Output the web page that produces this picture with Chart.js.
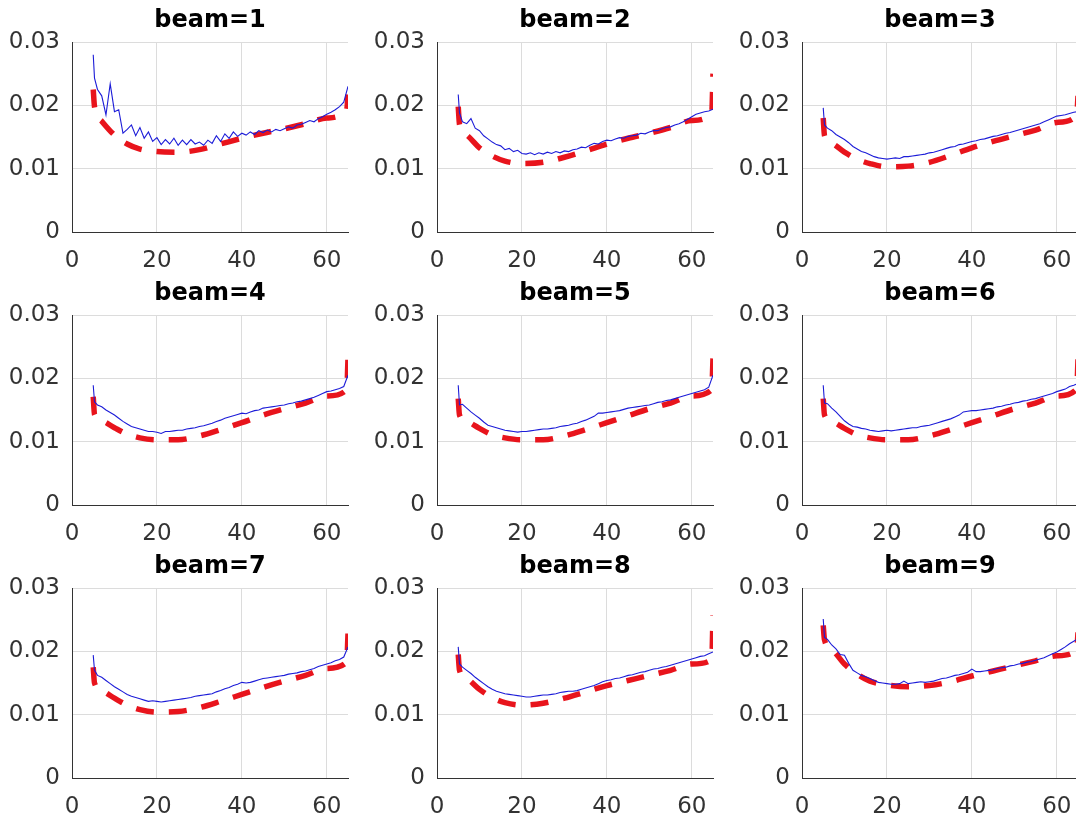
<!DOCTYPE html>
<html>
<head>
<meta charset="utf-8">
<script src="https://cdn.jsdelivr.net/npm/chart.js@4"></script>
<style>
  html, body { margin: 0; padding: 0; background: #fff; overflow: hidden; width: 1076px; height: 817px; }
  canvas { position: absolute; }
</style>
</head>
<body>
<script>
// x positions of the measured curve (blue) and of the fitted curve (red)
const blueX = [5, 5.3, 6, 7, 8, 9, 10, 11, 12, 13, 14, 15, 16, 17, 18, 19, 20, 21, 22, 23, 24,
  25, 26, 27, 28, 29, 30, 31, 32, 33, 34, 35, 36, 37, 38, 39, 40, 41, 42, 43, 44,
  45, 46, 47, 48, 49, 50, 51, 52, 53, 54, 55, 56, 57, 58, 59, 60, 61, 62, 63, 64, 65];
const redX = [5, 5.3, 7, 10, 13, 16, 20, 25, 30, 35, 40, 45, 50, 55, 60, 64.7, 65];

// tick labels
const xTicks = [0, 20, 40, 60];
const yTicks = [0, 0.01, 0.02, 0.03];
const yTickLabels = ['0', '0.01', '0.02', '0.03'];

const titles = ['beam=1', 'beam=2', 'beam=3', 'beam=4', 'beam=5', 'beam=6', 'beam=7', 'beam=8', 'beam=9'];

// measured (blue)
const beam1Blue = [0.0280, 0.0243, 0.0225, 0.0215, 0.0185, 0.0234, 0.0190, 0.0193, 0.0156, 0.0162,
  0.0169, 0.0152, 0.0165, 0.0148, 0.0158, 0.0143, 0.0149, 0.0138, 0.0146, 0.0139,
  0.0148, 0.0137, 0.0145, 0.0138, 0.0146, 0.0139, 0.0142, 0.0137, 0.0145, 0.0140,
  0.0152, 0.0143, 0.0155, 0.0148, 0.0158, 0.0151, 0.0156, 0.0153, 0.0158, 0.0154,
  0.0160, 0.0157, 0.0161, 0.0158, 0.0162, 0.0160, 0.0163, 0.0166, 0.0164, 0.0169,
  0.0170, 0.0173, 0.0176, 0.0174, 0.0179, 0.0182, 0.0186, 0.0189, 0.0193, 0.0198,
  0.0205, 0.0230];
const beam2Blue = [0.0217, 0.0188, 0.0174, 0.0171, 0.0179, 0.0164, 0.0160, 0.0152, 0.0147, 0.0142,
  0.0138, 0.0136, 0.0130, 0.0132, 0.0127, 0.0129, 0.0124, 0.0123, 0.0125, 0.0122,
  0.0125, 0.0123, 0.0126, 0.0124, 0.0127, 0.0125, 0.0128, 0.0127, 0.0130, 0.0131,
  0.0134, 0.0133, 0.0137, 0.0140, 0.0139, 0.0143, 0.0145, 0.0144, 0.0147, 0.0149,
  0.0148, 0.0151, 0.0152, 0.0153, 0.0156, 0.0155, 0.0158, 0.0160, 0.0160, 0.0163,
  0.0165, 0.0166, 0.0169, 0.0171, 0.0174, 0.0178, 0.0182, 0.0186, 0.0188, 0.0190,
  0.0191, 0.0194];
const beam3Blue = [0.0196, 0.0169, 0.0164, 0.0160, 0.0154, 0.0150, 0.0146, 0.0141, 0.0135, 0.0131,
  0.0127, 0.0125, 0.0122, 0.0119, 0.0117, 0.0116, 0.0115, 0.0116, 0.0117, 0.0116,
  0.0119, 0.0119, 0.0120, 0.0121, 0.0122, 0.0123, 0.0125, 0.0126, 0.0128, 0.0130,
  0.0132, 0.0134, 0.0135, 0.0138, 0.0139, 0.0141, 0.0143, 0.0144, 0.0146, 0.0147,
  0.0149, 0.0151, 0.0152, 0.0154, 0.0156, 0.0157, 0.0159, 0.0161, 0.0163, 0.0165,
  0.0167, 0.0169, 0.0171, 0.0174, 0.0177, 0.0180, 0.0183, 0.0184, 0.0185, 0.0187,
  0.0189, 0.0190];
const beam4Blue = [0.0189, 0.0163, 0.0158, 0.0155, 0.0150, 0.0146, 0.0142, 0.0137, 0.0132, 0.0128,
  0.0124, 0.0122, 0.0120, 0.0118, 0.0116, 0.0116, 0.0115, 0.0113, 0.0116, 0.0116,
  0.0117, 0.0118, 0.0118, 0.0120, 0.0121, 0.0122, 0.0124, 0.0125, 0.0127, 0.0129,
  0.0132, 0.0134, 0.0137, 0.0139, 0.0141, 0.0143, 0.0145, 0.0144, 0.0147, 0.0149,
  0.0150, 0.0153, 0.0154, 0.0155, 0.0156, 0.0157, 0.0158, 0.0160, 0.0161, 0.0163,
  0.0164, 0.0166, 0.0168, 0.0170, 0.0173, 0.0176, 0.0179, 0.0180, 0.0182, 0.0184,
  0.0187, 0.0205];
const beam5Blue = [0.0189, 0.0158, 0.0159, 0.0153, 0.0147, 0.0142, 0.0137, 0.0131, 0.0126, 0.0124,
  0.0122, 0.0120, 0.0118, 0.0117, 0.0116, 0.0115, 0.0116, 0.0116, 0.0117, 0.0118,
  0.0119, 0.0120, 0.0120, 0.0121, 0.0122, 0.0124, 0.0125, 0.0126, 0.0128, 0.0129,
  0.0132, 0.0134, 0.0137, 0.0140, 0.0145, 0.0145, 0.0146, 0.0147, 0.0148, 0.0149,
  0.0151, 0.0153, 0.0154, 0.0155, 0.0156, 0.0157, 0.0158, 0.0160, 0.0162, 0.0163,
  0.0165, 0.0166, 0.0168, 0.0170, 0.0172, 0.0174, 0.0176, 0.0178, 0.0180, 0.0182,
  0.0186, 0.0205];
const beam6Blue = [0.0189, 0.0161, 0.0160, 0.0153, 0.0147, 0.0140, 0.0133, 0.0128, 0.0124, 0.0123,
  0.0121, 0.0120, 0.0118, 0.0117, 0.0116, 0.0117, 0.0118, 0.0117, 0.0118, 0.0119,
  0.0120, 0.0121, 0.0122, 0.0122, 0.0124, 0.0125, 0.0126, 0.0128, 0.0130, 0.0132,
  0.0134, 0.0136, 0.0139, 0.0142, 0.0147, 0.0148, 0.0149, 0.0149, 0.0150, 0.0151,
  0.0152, 0.0153, 0.0155, 0.0156, 0.0158, 0.0159, 0.0161, 0.0162, 0.0164, 0.0165,
  0.0167, 0.0168, 0.0170, 0.0172, 0.0174, 0.0176, 0.0179, 0.0181, 0.0183, 0.0187,
  0.0189, 0.0192];
const beam7Blue = [0.0194, 0.0170, 0.0162, 0.0159, 0.0154, 0.0149, 0.0144, 0.0140, 0.0136, 0.0132,
  0.0129, 0.0127, 0.0125, 0.0123, 0.0121, 0.0122, 0.0121, 0.0120, 0.0121, 0.0122,
  0.0123, 0.0124, 0.0125, 0.0126, 0.0127, 0.0129, 0.0130, 0.0131, 0.0132, 0.0133,
  0.0136, 0.0138, 0.0141, 0.0143, 0.0146, 0.0148, 0.0151, 0.0150, 0.0151, 0.0153,
  0.0155, 0.0157, 0.0158, 0.0159, 0.0160, 0.0161, 0.0162, 0.0164, 0.0165, 0.0166,
  0.0168, 0.0169, 0.0171, 0.0173, 0.0176, 0.0178, 0.0180, 0.0182, 0.0185, 0.0187,
  0.0191, 0.0207];
const beam8Blue = [0.0207, 0.0180, 0.0175, 0.0170, 0.0165, 0.0159, 0.0154, 0.0149, 0.0144, 0.0140,
  0.0137, 0.0135, 0.0133, 0.0132, 0.0131, 0.0130, 0.0129, 0.0128, 0.0128, 0.0129,
  0.0130, 0.0131, 0.0131, 0.0132, 0.0133, 0.0135, 0.0136, 0.0137, 0.0137, 0.0138,
  0.0140, 0.0142, 0.0144, 0.0146, 0.0149, 0.0152, 0.0154, 0.0155, 0.0157, 0.0158,
  0.0160, 0.0162, 0.0163, 0.0165, 0.0167, 0.0168, 0.0170, 0.0172, 0.0173, 0.0175,
  0.0176, 0.0178, 0.0180, 0.0182, 0.0184, 0.0186, 0.0188, 0.0190, 0.0192, 0.0193,
  0.0196, 0.0199];
const beam9Blue = [0.0251, 0.0222, 0.0219, 0.0210, 0.0204, 0.0195, 0.0194, 0.0181, 0.0170, 0.0166,
  0.0162, 0.0160, 0.0157, 0.0154, 0.0151, 0.0150, 0.0149, 0.0148, 0.0148, 0.0149,
  0.0153, 0.0149, 0.0150, 0.0151, 0.0152, 0.0151, 0.0152, 0.0153, 0.0155, 0.0157,
  0.0158, 0.0160, 0.0162, 0.0163, 0.0165, 0.0167, 0.0172, 0.0168, 0.0168, 0.0169,
  0.0170, 0.0171, 0.0173, 0.0174, 0.0175, 0.0177, 0.0178, 0.0180, 0.0181, 0.0183,
  0.0184, 0.0186, 0.0188, 0.0190, 0.0193, 0.0196, 0.0199, 0.0203, 0.0207, 0.0212,
  0.0216, 0.0220];

// fitted (red dashed)
const beam1Red = [0.0225, 0.0198, 0.0175, 0.0153, 0.0139, 0.0131, 0.0127, 0.0126, 0.0130, 0.0139, 0.0148, 0.0156, 0.0163, 0.0171, 0.0180, 0.0193, 0.0217];
const beam2Red = [0.0198, 0.0170, 0.0153, 0.0133, 0.0120, 0.0112, 0.0108, 0.0110, 0.0118, 0.0128, 0.0139, 0.0148, 0.0156, 0.0165, 0.0176, 0.0187, 0.0250];
const beam3Red = [0.0180, 0.0152, 0.0140, 0.0126, 0.0115, 0.0108, 0.0103, 0.0104, 0.0110, 0.0121, 0.0133, 0.0143, 0.0152, 0.0161, 0.0173, 0.0184, 0.0215];
const beam4Red = [0.0171, 0.0143, 0.0133, 0.0122, 0.0112, 0.0106, 0.0103, 0.0103, 0.0109, 0.0119, 0.0130, 0.0142, 0.0152, 0.0161, 0.0172, 0.0182, 0.0232];
const beam5Red = [0.0168, 0.0142, 0.0132, 0.0121, 0.0111, 0.0106, 0.0103, 0.0103, 0.0109, 0.0119, 0.0130, 0.0141, 0.0152, 0.0161, 0.0172, 0.0182, 0.0232];
const beam6Red = [0.0168, 0.0142, 0.0132, 0.0121, 0.0111, 0.0106, 0.0103, 0.0103, 0.0109, 0.0119, 0.0130, 0.0141, 0.0152, 0.0161, 0.0172, 0.0183, 0.0230];
const beam7Red = [0.0175, 0.0150, 0.0138, 0.0126, 0.0115, 0.0108, 0.0104, 0.0105, 0.0111, 0.0121, 0.0132, 0.0143, 0.0153, 0.0162, 0.0173, 0.0183, 0.0228];
const beam8Red = [0.0195, 0.0170, 0.0157, 0.0140, 0.0127, 0.0119, 0.0115, 0.0118, 0.0126, 0.0136, 0.0146, 0.0154, 0.0162, 0.0170, 0.0180, 0.0187, 0.0257];
const beam9Red = [0.0241, 0.0218, 0.0203, 0.0180, 0.0164, 0.0153, 0.0147, 0.0144, 0.0146, 0.0152, 0.0161, 0.0169, 0.0177, 0.0185, 0.0193, 0.0202, 0.0230];

const blueSeries = [beam1Blue, beam2Blue, beam3Blue, beam4Blue, beam5Blue, beam6Blue, beam7Blue, beam8Blue, beam9Blue];
const redSeries = [beam1Red, beam2Red, beam3Red, beam4Red, beam5Red, beam6Red, beam7Red, beam8Red, beam9Red];

// grid placement (px)
const colLeft = [0, 365, 730];
const rowTop = [0, 273, 546];
const W = 368, H = 272;
const FONT = 'DejaVu Sans';

titles.forEach((title, i) => {
  const c = document.createElement('canvas');
  c.width = W; c.height = H;
  c.style.width = W + 'px'; c.style.height = H + 'px';
  c.style.left = colLeft[i % 3] + 'px';
  c.style.top = rowTop[Math.floor(i / 3)] + 'px';
  document.body.appendChild(c);

  new Chart(c, {
    type: 'line',
    data: {
      datasets: [{
        data: blueX.map((x, k) => ({ x, y: blueSeries[i][k] })),
        borderColor: '#1c1cd8',
        borderWidth: 1.1,
        pointRadius: 0,
        tension: 0
      }, {
        data: redX.map((x, k) => ({ x, y: redSeries[i][k] })),
        borderColor: '#e8141c',
        borderWidth: 5.5,
        borderDash: [18, 15],
        borderCapStyle: 'butt',
        pointRadius: 0,
        cubicInterpolationMode: 'monotone'
      }]
    },
    options: {
      responsive: false,
      animation: false,
      devicePixelRatio: 1,
      layout: { padding: { left: 0, right: 20, top: 0, bottom: 0 } },
      plugins: {
        legend: { display: false },
        tooltip: { enabled: false },
        title: {
          display: true,
          fullSize: false,
          text: title,
          color: '#000',
          font: { family: FONT, size: 24, weight: 'bold', lineHeight: 1.2 },
          padding: { top: 6.6, bottom: 6.6 }
        }
      },
      scales: {
        x: {
          type: 'linear',
          min: 0, max: 65,
          afterBuildTicks: s => { s.ticks = xTicks.map(v => ({ value: v })); },
          afterFit: s => { s.height = 40; },
          ticks: { color: '#333', font: { family: FONT, size: 23 }, padding: 15, maxRotation: 0, autoSkip: false },
          grid: { color: '#dcdcdc', drawTicks: false },
          border: { color: '#333', width: 1 }
        },
        y: {
          min: 0, max: 0.03,
          afterBuildTicks: s => { s.ticks = yTicks.map(v => ({ value: v })); },
          afterFit: s => { s.width = 72; },
          ticks: { color: '#333', font: { family: FONT, size: 23 }, padding: 12, callback: (v, idx) => yTickLabels[idx] },
          grid: { color: '#dcdcdc', drawTicks: false },
          border: { color: '#333', width: 1 }
        }
      }
    }
  });
});
</script>
</body>
</html>
